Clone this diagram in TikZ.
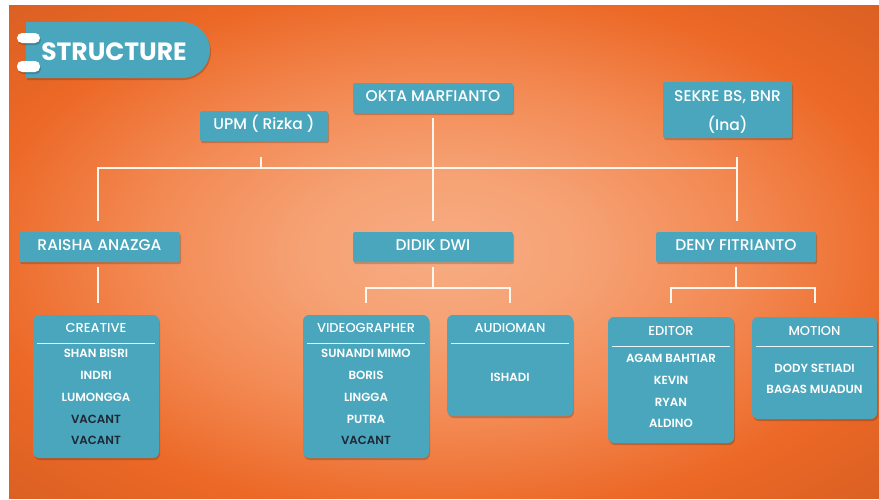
\documentclass[tikz,border=0pt]{standalone}
\usepackage{fontspec}
\setmainfont{Poppins}[UprightFont=* Medium, BoldFont=* SemiBold]
\newfontfamily\titlefont{Poppins}[UprightFont=* Bold]
\usetikzlibrary{shadows,calc}
\definecolor{teal0}{RGB}{74,166,188}
\definecolor{bgin}{RGB}{247,172,130}
\definecolor{bgmid}{RGB}{243,138,84}
\definecolor{bgout}{RGB}{236,104,38}
\definecolor{ink}{RGB}{30,40,52}
\definecolor{lineclr}{RGB}{255,246,238}
\pgfdeclareradialshading{bgshade}{\pgfpoint{0bp}{0bp}}{color(0bp)=(bgin); color(8bp)=(bgin!70!bgmid); color(17bp)=(bgmid); color(27bp)=(bgout); color(36bp)=(bgout!92!black); color(50bp)=(bgout!92!black)}
\tikzset{
  shadowed/.style={drop shadow={shadow xshift=1pt, shadow yshift=-2pt, opacity=0.18, fill=black}},
  topbox/.style={shadowed, fill=teal0, rounded corners=1.5pt, inner sep=0pt, text=white,
    font=\fontsize{15.5}{17}\selectfont, text height=11pt, text depth=5pt},
  grpbox/.style={shadowed, fill=teal0, rounded corners=6pt, inner sep=0pt},
  toptext/.style={text=white, inner sep=0pt, font=\fontsize{15.5}{17}\selectfont},
  conn/.style={draw=lineclr, line width=2pt},
  hdr/.style={text=white, inner sep=0pt, font=\fontsize{13}{15}\selectfont},
  mem/.style={text=white, inner sep=0pt, font=\bfseries\fontsize{11.8}{13}\selectfont},
  vac/.style={mem, text=ink},
  divline/.style={draw=white!88!teal0, line width=0.9pt},
}
\begin{document}
\begin{tikzpicture}[x=1pt,y=-1pt]
\useasboundingbox (0,0) rectangle (879,499);
\fill[white] (0,0) rectangle (879,499);
\shade[shading=bgshade] (9,5) rectangle (879,498);

% title tab
\fill[teal0, shadowed] (26,22) -- (182,22) arc[start angle=-90, end angle=90, radius=28] -- (26,78) -- cycle;
\fill[white, rounded corners=5pt, shadowed] (17,33) rectangle (40,43);
\fill[white, rounded corners=5pt, shadowed] (17,61) rectangle (40,72);
\node[text=white, inner sep=0pt, font=\titlefont\fontsize{25}{27}\selectfont] (title) at (114,52) {STRUCTURE};

% top level boxes
\node[topbox, minimum width=160pt, minimum height=30pt] (okta) at (433,98) {OKTA MARFIANTO};
\node[topbox, minimum width=128pt, minimum height=30pt, text depth=4pt] (upm) at (264,126) {UPM ( Rizka )};
\node[topbox, minimum width=129pt, minimum height=56pt] (sekre) at (727.5,110) {};
\node[toptext] (sekre1) at (727.5,97) {SEKRE BS, BNR};
\node[toptext] (sekre2) at (727.5,125) {(Ina)};

\node[topbox, minimum width=161pt, minimum height=30pt] (raisha) at (99.5,247) {RAISHA ANAZGA};
\node[topbox, minimum width=160pt, minimum height=30pt] (didik) at (433,247) {DIDIK DWI};
\node[topbox, minimum width=160pt, minimum height=30pt] (deny) at (736,247) {DENY FITRIANTO};

% connectors top
\coordinate (tl) at (98,168);
\coordinate (tr) at (737,168);
\draw[conn, shorten <=5pt, shorten >=11pt] (okta.south) -- (didik.north);
\draw[conn] ($(tl |- raisha.north)+(0,-11)$) -- (tl) -- (tr);
\draw[conn] ($(tr |- sekre.south)+(0,19)$) -- ($(tr |- deny.north)+(0,-11)$);
\draw[conn] ($(upm.south)+(-3,16)$) -- ($(upm.south |- tl)+(-3,0)$);

% group boxes
\node[grpbox, minimum width=126pt, minimum height=143pt] (creative) at (96,386.5) {};
\node[grpbox, minimum width=126pt, minimum height=143pt] (video) at (366,386.5) {};
\node[grpbox, minimum width=126pt, minimum height=101pt] (audio) at (510,365.5) {};
\node[grpbox, minimum width=126pt, minimum height=126pt] (editor) at (671,380) {};
\node[grpbox, minimum width=125pt, minimum height=102pt] (motion) at (814.5,368) {};

% connectors bottom
\draw[conn] ($(raisha.south -| tl)+(0,5)$) -- ($(creative.north -| tl)+(0,-12)$);
\draw[conn] ($(didik.south)+(0,5)$) -- ($(didik.south)+(0,26)$);
\draw[conn] ($(video.north)+(0,-12)$) |- ($(didik.south)+(0,26)$) -| ($(audio.north)+(0,-12)$);
\draw[conn] ($(deny.south)+(0,5)$) -- ($(deny.south)+(0,26)$);
\draw[conn] ($(editor.north)+(0,-14)$) |- ($(deny.south)+(0,26)$) -| ($(motion.north)+(0,-14)$);

% dividers
\draw[divline] ($(creative.north west)+(4,29)$) -- ($(creative.north east)+(-4,29)$);
\draw[divline] ($(video.north west)+(4,29)$) -- ($(video.north east)+(-4,29)$);
\draw[divline] ($(audio.north west)+(4,29)$) -- ($(audio.north east)+(-4,29)$);
\draw[divline] ($(editor.north west)+(4,30)$) -- ($(editor.north east)+(-4,30)$);
\draw[divline] ($(motion.north west)+(4,30)$) -- ($(motion.north east)+(-4,30)$);

% creative
\node[hdr] (hc) at (96,328) {CREATIVE};
\node[mem] (c1) at (96,353) {SHAN BISRI};
\node[mem] (c2) at (96,375) {INDRI};
\node[mem] (c3) at (96,397) {LUMONGGA};
\node[vac] (c4) at (96,419) {VACANT};
\node[vac] (c5) at (96,440) {VACANT};

% videographer
\node[hdr] (hv) at (366,328) {VIDEOGRAPHER};
\node[mem] (v1) at (366,353) {SUNANDI MIMO};
\node[mem] (v2) at (366,375) {BORIS};
\node[mem] (v3) at (366,397) {LINGGA};
\node[mem] (v4) at (366,419) {PUTRA};
\node[vac] (v5) at (366,440) {VACANT};

% audioman
\node[hdr] (ha) at (510,328) {AUDIOMAN};
\node[mem] (a1) at (510,377) {ISHADI};

% editor
\node[hdr] (he) at (671,331) {EDITOR};
\node[mem] (e1) at (671,358) {AGAM BAHTIAR};
\node[mem] (e2) at (671,380) {KEVIN};
\node[mem] (e3) at (671,402) {RYAN};
\node[mem] (e4) at (671,423) {ALDINO};

% motion
\node[hdr] (hm) at (814.5,331) {MOTION};
\node[mem] (m1) at (814.5,368) {DODY SETIADI};
\node[mem] (m2) at (814.5,389) {BAGAS MUADUN};
\end{tikzpicture}
\end{document}
